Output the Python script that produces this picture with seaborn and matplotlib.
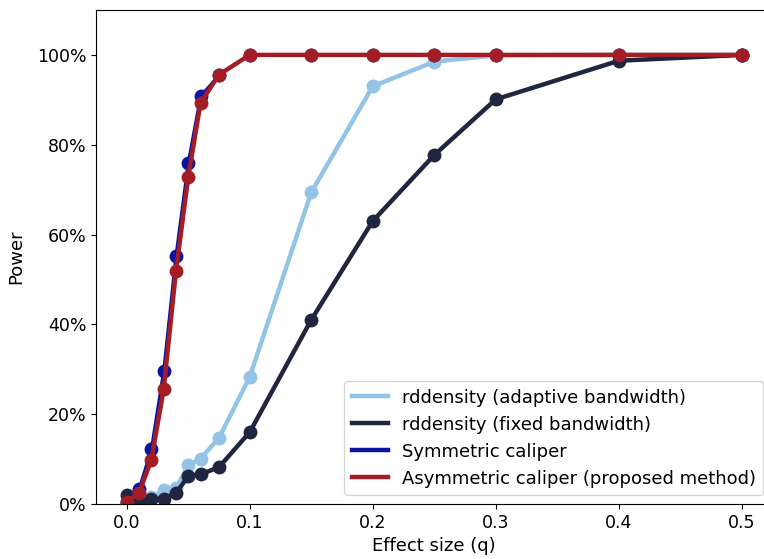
import matplotlib
matplotlib.use("Agg")
import matplotlib.pyplot as plt
from matplotlib.lines import Line2D
from matplotlib.ticker import PercentFormatter
import seaborn as sns
import pandas as pd

effect = [0.0, 0.01, 0.02, 0.03, 0.04, 0.05, 0.06, 0.075, 0.1, 0.15, 0.2, 0.25, 0.3, 0.4, 0.5]
adaptive = [0.005, 0.01, 0.015, 0.031, 0.035, 0.086, 0.101, 0.147, 0.283, 0.694, 0.930, 0.985, 0.999, 1.0, 1.0]
fixed = [0.020, 0.005, 0.011, 0.012, 0.024, 0.062, 0.066, 0.082, 0.160, 0.410, 0.630, 0.777, 0.901, 0.987, 1.0]
symmetric = [0.005, 0.033, 0.122, 0.296, 0.553, 0.760, 0.908, 0.955, 1.0, 1.0, 1.0, 1.0, 1.0, 1.0, 1.0]
asymmetric = [0.005, 0.025, 0.098, 0.255, 0.518, 0.728, 0.893, 0.956, 1.0, 1.0, 1.0, 1.0, 1.0, 1.0, 1.0]

labels = ["rddensity (adaptive bandwidth)", "rddensity (fixed bandwidth)",
          "Symmetric caliper", "Asymmetric caliper (proposed method)"]
colors = ["#93c4e5", "#20263f", "#0a14a0", "#a51d24"]
widths = [3.2, 3.2, 2.2, 3.2]
series = [adaptive, fixed, symmetric, asymmetric]

fig = plt.figure(figsize=(7.64, 5.59), dpi=100)
ax = fig.add_axes([96 / 764, 55 / 559, 676.5 / 764, 494 / 559])

for lab, col, lw, vals in zip(labels, colors, widths, series):
    df = pd.DataFrame({"q": effect, "p": vals})
    sns.lineplot(data=df, x="q", y="p", ax=ax, color=col, linewidth=lw,
                 marker="o", markersize=10, markeredgewidth=0, legend=False)

ax.set_xlim(-0.025, 0.525)
ax.set_ylim(0, 1.1)
ax.set_xticks([0.0, 0.1, 0.2, 0.3, 0.4, 0.5])
ax.set_yticks([0, 0.2, 0.4, 0.6, 0.8, 1.0])
ax.yaxis.set_major_formatter(PercentFormatter(1.0, decimals=0))
ax.tick_params(labelsize=12.5)
ax.set_xlabel("Effect size (q)", fontsize=13)
ax.set_ylabel("Power", fontsize=13, labelpad=8)

handles = [Line2D([0], [0], color=c, linewidth=3.2) for c in colors]
ax.legend(handles, labels, loc="lower right", fontsize=13)

fig.savefig("out.png", dpi=100)
